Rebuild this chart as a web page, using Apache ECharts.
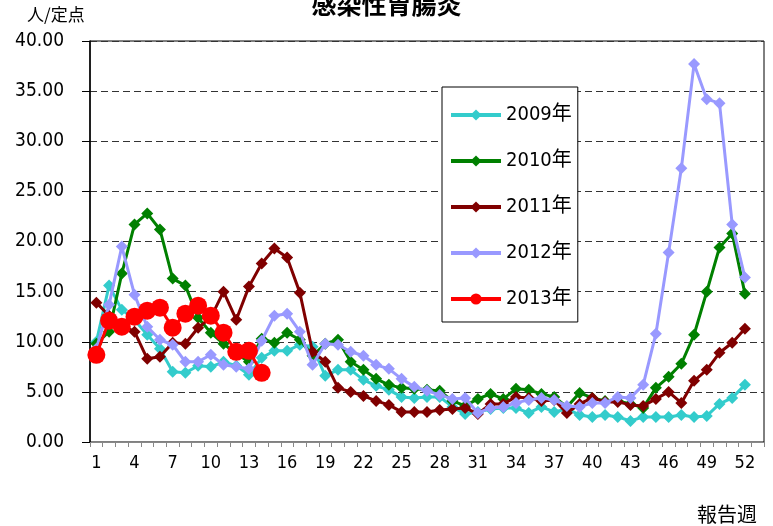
<!DOCTYPE html>
<html>
<head>
<meta charset="utf-8">
<script src="https://cdn.jsdelivr.net/npm/echarts@6/dist/echarts.min.js"></script>
<style>
html,body{margin:0;padding:0;background:#fff;}
#chart{width:773px;height:526px;}
</style>
</head>
<body>
<div id="chart"></div>
<script>
var weeks = [];
for (var i = 1; i <= 53; i++) weeks.push(String(i));

var seriesNames = ['2009年', '2010年', '2011年', '2012年', '2013年'];

var y2009 = [10.0, 15.6, 13.2, 12.2, 10.7, 9.3, 7.0, 6.9, 7.6, 7.5, 8.0, 7.6, 6.7, 8.4, 9.1, 9.1, 9.7, 9.5, 6.6, 7.2, 7.2, 6.2, 5.6, 5.2, 4.5, 4.4, 4.5, 4.5, 3.5, 2.8, 3.0, 3.3, 3.4, 3.4, 2.9, 3.5, 3.0, 3.3, 2.7, 2.5, 2.7, 2.5, 2.1, 2.5, 2.5, 2.5, 2.7, 2.5, 2.6, 3.8, 4.4, 5.7];
var y2010 = [9.8, 11.0, 16.8, 21.7, 22.8, 21.2, 16.3, 15.6, 12.4, 10.9, 9.8, 8.8, 8.0, 10.3, 9.9, 10.9, 10.2, 8.6, 9.8, 10.2, 8.0, 7.2, 6.3, 5.7, 5.4, 5.3, 5.2, 5.1, 4.1, 3.6, 4.3, 4.8, 4.3, 5.3, 5.2, 4.8, 4.5, 3.5, 4.9, 4.4, 4.1, 4.1, 3.8, 3.4, 5.4, 6.5, 7.8, 10.7, 15.0, 19.4, 20.8, 14.8];
var y2011 = [13.9, 12.6, 11.7, 11.0, 8.3, 8.5, 9.9, 9.8, 11.4, 12.4, 15.0, 12.2, 15.5, 17.8, 19.3, 18.4, 14.9, 9.0, 8.0, 5.4, 5.0, 4.6, 4.1, 3.7, 3.0, 3.0, 3.0, 3.2, 3.3, 3.4, 2.8, 3.8, 3.8, 4.5, 4.4, 4.1, 4.2, 2.9, 3.8, 4.4, 4.0, 4.0, 3.7, 3.6, 4.3, 5.0, 3.9, 6.1, 7.2, 8.9, 9.9, 11.3];
var y2012 = [9.3, 13.7, 19.5, 14.7, 11.5, 10.2, 9.7, 8.0, 8.0, 8.7, 7.7, 7.5, 7.3, 10.1, 12.6, 12.8, 11.0, 7.7, 9.8, 9.7, 9.0, 8.6, 7.7, 7.3, 6.3, 5.5, 5.1, 4.7, 4.3, 4.4, 2.9, 3.4, 3.5, 3.9, 4.2, 4.4, 4.2, 3.6, 3.5, 3.9, 3.9, 4.5, 4.4, 5.7, 10.8, 18.9, 27.3, 37.7, 34.2, 33.8, 21.7, 16.4];
var y2013 = [8.7, 12.1, 11.5, 12.5, 13.1, 13.4, 11.4, 12.8, 13.6, 12.6, 10.9, 9.0, 9.1, 6.9];

var colors = ['#33CCCC', '#008000', '#800000', '#9999FF', '#FF0000'];
var allData = [y2009, y2010, y2011, y2012, y2013];

var FONT = '"DejaVu Sans Condensed", "Noto Sans CJK JP", sans-serif';
var CJK = '"Noto Sans CJK JP", sans-serif';

var series = allData.map(function (d, i) {
  var isCircle = i === 4;
  return {
    name: seriesNames[i],
    type: 'line',
    data: d,
    symbol: isCircle ? 'circle' : 'diamond',
    symbolSize: isCircle ? 18 : 12,
    showAllSymbol: true,
    lineStyle: { color: colors[i], width: 3 },
    itemStyle: { color: colors[i] },
    emphasis: { disabled: true },
    z: 2 + i
  };
});

var chart = echarts.init(document.getElementById('chart'), null, { renderer: 'canvas' });
chart.setOption({
  animation: false,
  backgroundColor: '#fff',
  title: {
    text: '感染性胃腸炎',
    left: 'center',
    top: -13,
    textStyle: { fontFamily: CJK, fontSize: 25, fontWeight: 'bold', color: '#000' }
  },
  grid: {
    left: 90, right: 9, top: 41, bottom: 84,
    show: true, borderColor: '#000', borderWidth: 1, backgroundColor: 'transparent',
    containLabel: false
  },
  legend: {
    orient: 'vertical',
    left: 442,
    top: 87,
    data: seriesNames,
    itemWidth: 50,
    itemHeight: 14,
    itemGap: 26,
    padding: [18, 6, 13, 7],
    backgroundColor: '#fff',
    borderColor: '#000',
    borderWidth: 1,
    lineStyle: { width: 4 },
    textStyle: { fontFamily: FONT, fontSize: 20, color: '#000' }
  },
  xAxis: {
    type: 'category',
    data: weeks,
    boundaryGap: true,
    axisLine: { show: true, lineStyle: { color: '#888', width: 1 } },
    axisTick: { show: true, interval: 0, length: 5, inside: false, lineStyle: { color: '#888' } },
    axisLabel: { interval: 2, margin: 12, fontFamily: FONT, fontSize: 18, color: '#000' },
    splitLine: { show: false }
  },
  yAxis: {
    type: 'value',
    min: 0, max: 40, interval: 5,
    axisLine: { show: true, lineStyle: { color: '#000', width: 1.5 } },
    axisTick: { show: true, length: 8, lineStyle: { color: '#000' } },
    axisLabel: {
      margin: 26, fontFamily: FONT, fontSize: 19, color: '#000',
      formatter: function (v) { return v.toFixed(2); }
    },
    splitLine: { show: true, lineStyle: { color: '#333', type: [7, 4], width: 1 } }
  },
  graphic: [
    { type: 'text', left: 27, top: 6, style: { text: '人/定点', font: '17px ' + CJK, fill: '#000' } },
    { type: 'text', left: 697, top: 504, style: { text: '報告週', font: '20px ' + CJK, fill: '#000' } }
  ],
  series: series
});
</script>
</body>
</html>
